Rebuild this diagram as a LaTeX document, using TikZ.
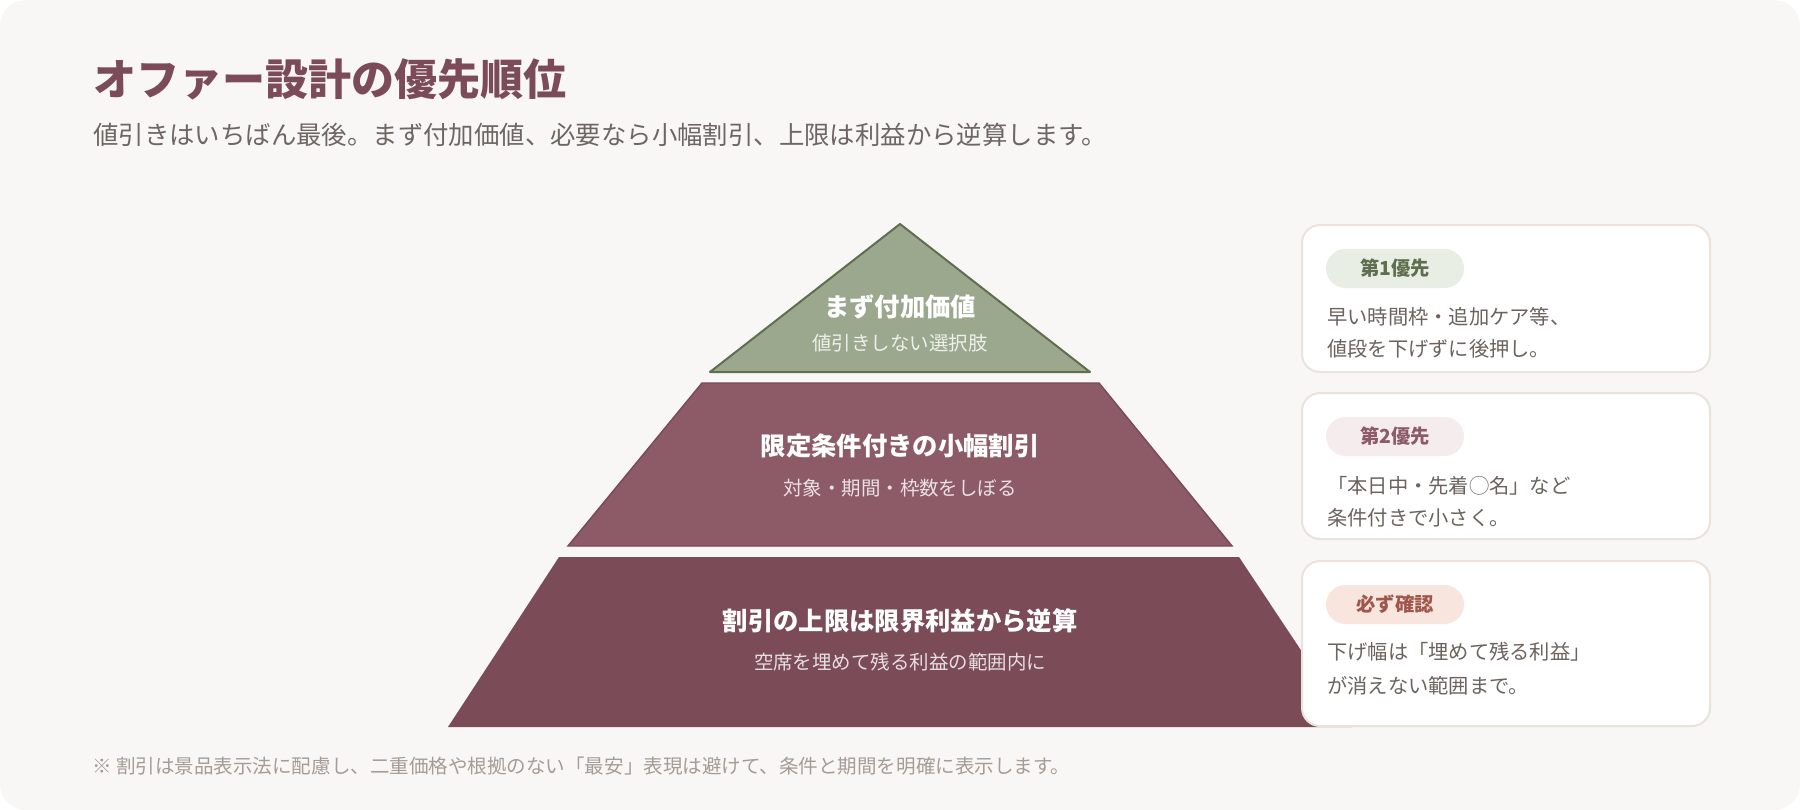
\documentclass[tikz,border=0pt]{standalone}
\usepackage{fontspec}
\setmainfont{Noto Sans CJK JP}
\usepackage{tikz}

\begin{document}
\begin{tikzpicture}[x=0.75pt,y=0.75pt,yscale=-1,xscale=1,
  layertitle/.style={anchor=center, inner sep=0.75pt, text=white, font=\fontsize{19}{22}\selectfont\bfseries},
  layersub/.style={anchor=center, inner sep=0.75pt, text=white, text opacity=0.82, font=\fontsize{14.6}{18}\selectfont},
  cardbox/.style={draw={rgb, 255:red, 234; green, 226; blue, 220 }, line width=1.5pt, fill=white, rounded corners=13.5pt},
  badge/.style={anchor=center, inner sep=0pt, minimum width=103.5pt, minimum height=29.25pt, rounded corners=14.6pt, font=\fontsize{14.5}{17}\selectfont\bfseries},
  cardtext/.style={anchor=west, inner sep=0.75pt, text={rgb, 255:red, 108; green, 99; blue, 95 }, font=\fontsize{15.2}{18}\selectfont}
]
\useasboundingbox (0,0) rectangle (1800,810);

% Background
\fill [white] (0,0) rectangle (1800,810);
\fill [color={rgb, 255:red, 248; green, 247; blue, 245 }, rounded corners=19.5pt] (0,0) rectangle (1800,810);

% Text Node
\draw (92,79) node (title) [anchor=west][inner sep=0.75pt] [text={rgb, 255:red, 123; green, 75; blue, 88 }, font=\fontsize{32.3}{36}\selectfont\bfseries] {オファー設計の優先順位};
% Text Node
\draw (92,135) node (subtitle) [anchor=west][inner sep=0.75pt] [text={rgb, 255:red, 110; green, 102; blue, 99 }, font=\fontsize{19.05}{22}\selectfont] {値引きはいちばん最後。まず付加価値、必要なら小幅割引、上限は利益から逆算します。};

% Shape: Triangle (top layer)
\draw [color={rgb, 255:red, 94; green, 110; blue, 79 }, line width=1.5, fill={rgb, 255:red, 156; green, 168; blue, 142 }, line join=round] (900,224) -- (1090,372) -- (710,372) -- cycle;
% Shape: Trapezoid (middle layer)
\draw [color={rgb, 255:red, 122; green, 74; blue, 88 }, line width=1.1, fill={rgb, 255:red, 140; green, 91; blue, 103 }] (702,383) -- (1099,383) -- (1232,546) -- (568,546) -- cycle;
% Shape: Trapezoid (bottom layer)
\fill [color={rgb, 255:red, 123; green, 75; blue, 88 }] (559,557) -- (1239,557) -- (1352,727) -- (448,727) -- cycle;

% Text Node
\draw (900,307) node (l1title) [layertitle] {まず付加価値};
% Text Node
\draw (900,343) node (l1sub) [layersub] {値引きしない選択肢};
% Text Node
\draw (900,446) node (l2title) [layertitle] {限定条件付きの小幅割引};
% Text Node
\draw (900,488) node (l2sub) [layersub] {対象・期間・枠数をしぼる};
% Text Node
\draw (900,621) node (l3title) [layertitle] {割引の上限は限界利益から逆算};
% Text Node
\draw (900,662) node (l3sub) [layersub] {空席を埋めて残る利益の範囲内に};

% Shape: Rectangle (cards)
\draw [cardbox] (1302,225) rectangle (1710,372);
\draw [cardbox] (1302,393) rectangle (1710,539);
\draw [cardbox] (1302,561) rectangle (1710,726);

% Badges
\draw (1395,268.5) node (b1) [badge, fill={rgb, 255:red, 233; green, 238; blue, 228 }, text={rgb, 255:red, 94; green, 110; blue, 79 }] {第1優先};
\draw (1395,436.5) node (b2) [badge, fill={rgb, 255:red, 245; green, 236; blue, 238 }, text={rgb, 255:red, 140; green, 91; blue, 103 }] {第2優先};
\draw (1395,604.5) node (b3) [badge, fill={rgb, 255:red, 247; green, 229; blue, 222 }, text={rgb, 255:red, 160; green, 86; blue, 74 }] {必ず確認};

% Text Node
\draw (1326,317) node (c1a) [cardtext] {早い時間枠・追加ケア等、};
% Text Node
\draw (1326,349) node (c1b) [cardtext] {値段を下げずに後押し。};
% Text Node
\draw (1326,486) node (c2a) [cardtext] {「本日中・先着◯名」など};
% Text Node
\draw (1326,518) node (c2b) [cardtext] {条件付きで小さく。};
% Text Node
\draw (1326,652) node (c3a) [cardtext] {下げ幅は「埋めて残る利益」};
% Text Node
\draw (1326,686) node (c3b) [cardtext] {が消えない範囲まで。};

% Text Node
\draw (91,766.5) node (note) [anchor=west][inner sep=0.75pt] [text={rgb, 255:red, 165; green, 156; blue, 150 }, font=\fontsize{14.65}{17}\selectfont] {※ 割引は景品表示法に配慮し、二重価格や根拠のない「最安」表現は避けて、条件と期間を明確に表示します。};

\end{tikzpicture}
\end{document}
